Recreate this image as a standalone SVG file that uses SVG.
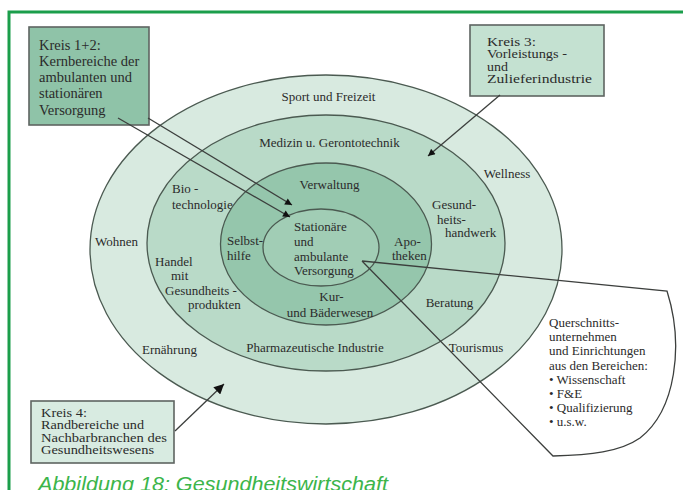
<svg xmlns="http://www.w3.org/2000/svg" width="683" height="490" viewBox="0 0 683 490">
<style>
.t{font-family:"Liberation Serif","Times New Roman",serif;font-size:13px;fill:#2b2b2b}
.c{text-anchor:middle}
.ring{stroke:#4b5a51;stroke-width:1.3}
.box{stroke:#5e6461;stroke-width:1.6}
.ln{stroke:#3c3f3d;stroke-width:1.3;fill:none}
</style>
<defs>
<marker id="ah" viewBox="0 0 10 10" refX="10" refY="5" markerWidth="8" markerHeight="7" orient="auto" markerUnits="userSpaceOnUse"><path d="M0,0 L10,5 L0,10 z" fill="#111"/></marker>
<marker id="ahL" viewBox="0 0 10 10" refX="10" refY="5" markerWidth="11" markerHeight="10" orient="auto" markerUnits="userSpaceOnUse"><path d="M0,0 L10,5 L0,10 z" fill="#111"/></marker>
</defs>
<rect width="683" height="490" fill="#ffffff"/>
<path id="frame" d="M9,490 V12 H683" fill="none" stroke="#1b9e4b" stroke-width="3"/>

<g id="ring-outer">
<ellipse class="ring" cx="326" cy="249.5" rx="236" ry="174.5" fill="#d8eae0"/>
<text class="t c" x="328.5" y="101">Sport und Freizeit</text>
<text class="t c" x="507" y="178">Wellness</text>
<text class="t c" x="116.5" y="246">Wohnen</text>
<text class="t c" x="169.5" y="354">Ernährung</text>
<text class="t c" x="476" y="352">Tourismus</text>
</g>
<g id="ring-middle">
<ellipse class="ring" cx="326" cy="243" rx="179" ry="128" fill="#b9dac8"/>
<text class="t c" x="329.5" y="147">Medizin u.  Gerontotechnik</text>
<text class="t" x="172" y="193">Bio -</text>
<text class="t" x="172" y="209">technologie</text>
<text class="t" x="155" y="266">Handel</text>
<text class="t" x="171" y="280">mit</text>
<text class="t" x="165" y="295">Gesundheits -</text>
<text class="t" x="188" y="309">produkten</text>
<text class="t" x="432" y="209">Gesund-</text>
<text class="t" x="437" y="224">heits-</text>
<text class="t" x="445" y="237">handwerk</text>
<text class="t c" x="449.5" y="307">Beratung</text>
<text class="t c" x="315" y="352">Pharmazeutische Industrie</text>
</g>
<g id="ring-inner">
<ellipse class="ring" cx="326" cy="244" rx="105.5" ry="81" fill="#95c6ac"/>
<text class="t c" x="329.5" y="189">Verwaltung</text>
<text class="t" x="227" y="244.5">Selbst-</text>
<text class="t" x="227" y="260">hilfe</text>
<text class="t" x="394" y="246">Apo-</text>
<text class="t" x="392" y="260">theken</text>
<text class="t c" x="331.5" y="301">Kur-</text>
<text class="t c" x="330" y="317">und Bäderwesen</text>
</g>
<g id="ring-core">
<ellipse class="ring" cx="321" cy="247.5" rx="58" ry="38.5" fill="#a1cdb5"/>
<text class="t" x="294" y="231">Stationäre</text>
<text class="t" x="294" y="246">und</text>
<text class="t" x="294" y="261">ambulante</text>
<text class="t" x="294" y="275">Versorgung</text>
</g>

<g id="sector-querschnitt">
<path class="ln" d="M362,261 L667,291 C684,345 676,410 640,438 C620,452 590,455 553,456 L362,261"/>
<text class="t" x="549" y="327">Querschnitts-</text>
<text class="t" x="549" y="341">unternehmen</text>
<text class="t" x="549" y="355">und Einrichtungen</text>
<text class="t" x="549" y="370">aus den Bereichen:</text>
<text class="t" x="549" y="384">• Wissenschaft</text>
<text class="t" x="549" y="398">• F&amp;E</text>
<text class="t" x="549" y="412">• Qualifizierung</text>
<text class="t" x="549" y="426">• u.s.w.</text>
</g>

<g id="box-kreis12">
<rect class="box" x="29" y="27" width="120" height="98" fill="#8fc3a8"/>
<text class="t" style="font-size:14.5px" x="39" y="49.5">Kreis 1+2:</text>
<text class="t" style="font-size:14.5px" x="39" y="65.8">Kernbereiche der</text>
<text class="t" style="font-size:14.5px" x="39" y="82.1">ambulanten und</text>
<text class="t" style="font-size:14.5px" x="39" y="98.4">stationären</text>
<text class="t" style="font-size:14.5px" x="39" y="114.7">Versorgung</text>
</g>
<g id="box-kreis3">
<rect class="box" x="470" y="25" width="134" height="71" fill="#c4e1d1"/>
<text class="t" style="font-size:12.5px" x="487" y="45.5" textLength="49" lengthAdjust="spacingAndGlyphs">Kreis 3:</text>
<text class="t" style="font-size:12.5px" x="487" y="58" textLength="80" lengthAdjust="spacingAndGlyphs">Vorleistungs -</text>
<text class="t" style="font-size:12.5px" x="487" y="70.5" textLength="21" lengthAdjust="spacingAndGlyphs">und</text>
<text class="t" style="font-size:12.5px" x="487" y="83" textLength="105" lengthAdjust="spacingAndGlyphs">Zulieferindustrie</text>
</g>
<g id="box-kreis4">
<rect class="box" x="31" y="401" width="143" height="62" fill="#d8ebe1"/>
<text class="t" style="font-size:12px" x="41" y="416.5" textLength="46" lengthAdjust="spacingAndGlyphs">Kreis 4:</text>
<text class="t" style="font-size:12px" x="41" y="429" textLength="103" lengthAdjust="spacingAndGlyphs">Randbereiche und</text>
<text class="t" style="font-size:12px" x="41" y="441.5" textLength="126" lengthAdjust="spacingAndGlyphs">Nachbarbranchen des</text>
<text class="t" style="font-size:12px" x="41" y="454" textLength="113" lengthAdjust="spacingAndGlyphs">Gesundheitswesens</text>
</g>

<g id="connectors">
<path class="ln" d="M118,118 L290,217" marker-end="url(#ah)"/>
<path class="ln" d="M148,118 L292,205" marker-end="url(#ah)"/>
<path class="ln" d="M500,95 L428,156" marker-end="url(#ah)"/>
<path class="ln" d="M175,431 L224,384" marker-end="url(#ahL)"/>
</g>

<text id="caption" x="38" y="491" textLength="350" lengthAdjust="spacingAndGlyphs" style="font-family:'Liberation Sans',Arial,sans-serif;font-style:italic;font-size:20px;fill:#3cb54a">Abbildung 18: Gesundheitswirtschaft</text>
</svg>
